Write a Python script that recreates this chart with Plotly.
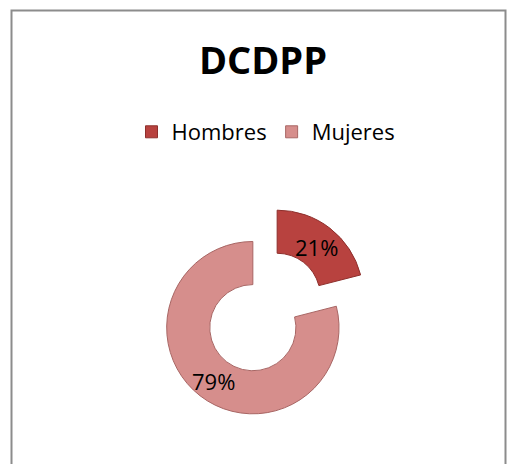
import math
import plotly.graph_objects as go

title_text = "DCDPP"
labels = ["Hombres", "Mujeres"]
values = [21, 79]
colors = ["#B8423F", "#D68E8C"]
line_colors = ["#8E2F2C", "#A86664"]

W, H = 507, 464
PULL = 0.23
HOLE = 0.5
dom_x = [159 / W, 371 / W]
dom_y = [45 / H, 259 / H]

fig = go.Figure()
fig.add_trace(go.Pie(
    labels=labels,
    values=values,
    hole=HOLE,
    sort=False,
    direction="clockwise",
    rotation=0,
    pull=[PULL] * len(values),
    marker=dict(colors=colors, line=dict(color=line_colors, width=1)),
    textinfo="none",
    domain=dict(x=dom_x, y=dom_y),
    showlegend=True,
    hoverinfo="label+percent",
))

# percentage labels placed along each slice's bisector (derived from the data)
cx = (dom_x[0] + dom_x[1]) / 2 * W
cy = (1 - (dom_y[0] + dom_y[1]) / 2) * H
r_tot = min(dom_x[1] - dom_x[0], 1) * W / 2
r = r_tot / (1 + PULL)
total = sum(values)
cum = 0
for lab, v in zip(labels, values):
    frac_mid = (cum + v / 2) / total
    cum += v
    th = 2 * math.pi * frac_mid
    dist = r * PULL + r * (1 + HOLE) / 2
    px = cx + dist * math.sin(th)
    py = cy - dist * math.cos(th) + 2
    fig.add_annotation(x=px / W, y=1 - py / H, xref="paper", yref="paper",
                       text=f"{round(100 * v / total)}%", showarrow=False,
                       font=dict(family="Open Sans", size=22, color="#000000"),
                       xanchor="center", yanchor="middle")

fig.add_shape(type="rect", xref="paper", yref="paper",
              x0=11.5 / W, x1=505.5 / W, y0=-0.05, y1=1 - 10.5 / H,
              line=dict(color="#8C8C8C", width=2), layer="below")

fig.update_layout(
    width=W, height=H,
    margin=dict(l=0, r=0, t=0, b=0),
    paper_bgcolor="#FFFFFF",
    plot_bgcolor="#FFFFFF",
    title=dict(text="<b>" + title_text + "</b>", x=263 / W, xanchor="center",
               y=1 - 61 / H, yanchor="middle",
               font=dict(family="Open Sans", size=38, color="#000000")),
    legend=dict(orientation="h", x=266 / W, xanchor="center",
                y=1 - 132 / H, yanchor="middle",
                font=dict(family="Open Sans", size=22, color="#000000"),
                itemwidth=30, traceorder="normal"),
)

fig.write_html("out.html", config={"displayModeBar": False},
               post_script="document.body.style.margin='0';document.body.style.overflow='hidden';")
